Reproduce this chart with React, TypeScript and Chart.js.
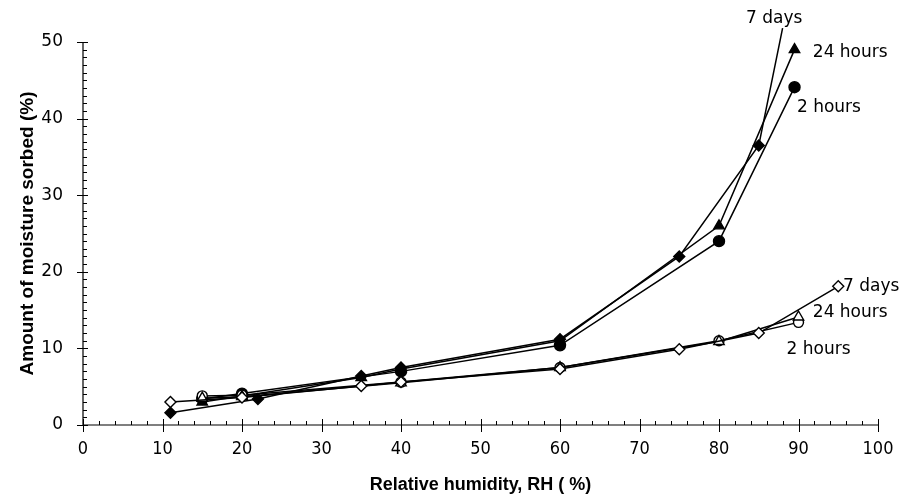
import React, { useEffect, useRef } from "react";
import { Chart, registerables } from "chart.js";

Chart.register(...registerables);

// Upper curves (filled markers)
const hi2hX = [15, 20, 40, 60, 80, 89.5];
const hi2hY = [3.4, 4.1, 7.0, 10.4, 24.0, 44.1];
const hi24hX = [15, 20, 35, 40, 60, 80, 89.5];
const hi24hY = [3.0, 3.8, 6.2, 7.3, 11.0, 26.0, 49.0];
const hi7dX = [11, 22, 35, 40, 60, 75, 85, 88];
const hi7dY = [1.6, 3.4, 6.4, 7.5, 11.2, 22.0, 36.5, 51.8];

// Lower curves (open markers)
const lo2hX = [15, 20, 40, 60, 80, 90];
const lo2hY = [3.8, 3.9, 5.6, 7.5, 11.0, 13.4];
const lo24hX = [15, 20, 40, 60, 80, 90];
const lo24hY = [3.5, 3.7, 5.5, 7.5, 10.9, 14.1];
const lo7dX = [11, 20, 35, 40, 60, 75, 85, 95];
const lo7dY = [3.0, 3.6, 5.1, 5.6, 7.3, 9.9, 12.0, 18.1];

const seriesLabels = ["7 days", "24 hours", "2 hours", "7 days", "24 hours", "2 hours"];
// anchor (data coords) for each curve label
const labelAnchorX = [83.4, 91.8, 89.8, 95.6, 91.8, 88.5];
const labelAnchorY = [53.0, 48.6, 41.4, 18.1, 14.7, 9.9];

const xTitle = "Relative humidity, RH ( %)";
const yTitle = "Amount of moisture sorbed (%)";

const toPts = (xs: number[], ys: number[]) => xs.map((x, i) => ({ x, y: ys[i] }));

const axesPlugin = {
  id: "customAxes",
  beforeDatasetsDraw(chart: any) {
    const { ctx, chartArea, scales } = chart;
    const { left, right, top, bottom } = chartArea;
    ctx.save();
    ctx.strokeStyle = "#000";
    ctx.lineWidth = 1.2;
    ctx.beginPath();
    ctx.moveTo(left, top);
    ctx.lineTo(left, bottom);
    ctx.moveTo(left, bottom);
    ctx.lineTo(right, bottom);
    ctx.stroke();
    ctx.lineWidth = 1;
    ctx.beginPath();
    // y ticks
    for (let v = 0; v <= 50; v += 1) {
      const py = Math.round(scales.y.getPixelForValue(v)) + 0.5;
      if (v % 10 === 0) {
        ctx.moveTo(left - 6, py);
        ctx.lineTo(left + 5, py);
      } else {
        ctx.moveTo(left, py);
        ctx.lineTo(left + 4, py);
      }
    }
    // x ticks
    for (let v = 0; v <= 100; v += 2) {
      const px = Math.round(scales.x.getPixelForValue(v)) + 0.5;
      if (v % 10 === 0) {
        ctx.moveTo(px, bottom - 6);
        ctx.lineTo(px, bottom + 7);
      } else {
        ctx.moveTo(px, bottom - 4);
        ctx.lineTo(px, bottom);
      }
    }
    ctx.stroke();
    ctx.restore();
  },
};

const labelPlugin = {
  id: "curveLabels",
  afterDatasetsDraw(chart: any) {
    const { ctx, scales } = chart;
    ctx.save();
    ctx.fillStyle = "#000";
    ctx.font = "17px 'DejaVu Sans', sans-serif";
    ctx.textAlign = "left";
    ctx.textBaseline = "middle";
    seriesLabels.forEach((t, i) => {
      ctx.fillText(t, scales.x.getPixelForValue(labelAnchorX[i]), scales.y.getPixelForValue(labelAnchorY[i]));
    });
    ctx.restore();
  },
};

export default function App() {
  const ref = useRef<HTMLCanvasElement>(null);
  useEffect(() => {
    if (!ref.current) return;
    const base = {
      borderColor: "#000",
      borderWidth: 1.5,
      pointBorderColor: "#000",
      pointBorderWidth: 1.4,
      tension: 0,
      clip: false as const,
      showLine: true,
    };
    const chart = new Chart(ref.current, {
      type: "scatter",
      data: {
        datasets: [
          { ...base, label: "lo 7 days", data: toPts(lo7dX, lo7dY), pointStyle: "rectRot", pointRadius: 5.5, pointBackgroundColor: "#fff" },
          { ...base, label: "lo 24 hours", data: toPts(lo24hX, lo24hY), pointStyle: "triangle", pointRadius: 6, pointBackgroundColor: "#fff" },
          { ...base, label: "lo 2 hours", data: toPts(lo2hX, lo2hY), pointStyle: "circle", pointRadius: 5, pointBackgroundColor: "#fff" },
          { ...base, label: "hi 2 hours", data: toPts(hi2hX, hi2hY), pointStyle: "circle", pointRadius: 5.5, pointBackgroundColor: "#000" },
          { ...base, label: "hi 24 hours", data: toPts(hi24hX, hi24hY), pointStyle: "triangle", pointRadius: 6, pointBackgroundColor: "#000" },
          {
            ...base,
            label: "hi 7 days",
            data: toPts(hi7dX, hi7dY),
            pointStyle: "rectRot",
            pointRadius: hi7dX.map((_, i) => (i === hi7dX.length - 1 ? 0 : 5.5)),
            pointBackgroundColor: "#000",
          },
        ],
      },
      options: {
        animation: false,
        responsive: false,
        events: [],
        layout: { padding: { top: 42, right: 36, left: 0, bottom: 0 } },
        plugins: { legend: { display: false }, tooltip: { enabled: false } },
        scales: {
          x: {
            type: "linear",
            min: 0,
            max: 100,
            grid: { display: false, drawTicks: false },
            border: { display: false },
            ticks: {
              stepSize: 10,
              autoSkip: false,
              maxRotation: 0,
              padding: 14,
              color: "#000",
              font: { family: "'Liberation Sans Narrow', 'DejaVu Sans Condensed', sans-serif", size: 18 },
            },
            title: {
              display: true,
              text: xTitle,
              color: "#000",
              font: { family: "'Liberation Sans', sans-serif", size: 18, weight: "bold" },
              padding: { top: 0, bottom: 4 },
            },
            afterFit(scale: any) {
              scale.height = 75;
            },
          },
          y: {
            type: "linear",
            min: 0,
            max: 50,
            grid: { display: false, drawTicks: false },
            border: { display: false },
            ticks: {
              stepSize: 10,
              padding: 20,
              color: "#000",
              font: { family: "'DejaVu Sans', sans-serif", size: 17 },
            },
            title: {
              display: true,
              text: yTitle,
              color: "#000",
              font: { family: "'Liberation Sans', sans-serif", size: 19, weight: "bold" },
              padding: { top: 16, bottom: 0 },
            },
            afterFit(scale: any) {
              scale.width = 83;
            },
          },
        },
      },
      plugins: [axesPlugin, labelPlugin],
    });
    return () => chart.destroy();
  }, []);
  return (
    <div style={{ position: "fixed", left: 0, top: 0, width: 914, height: 500, background: "#fff" }}>
      <canvas ref={ref} width={914} height={500} style={{ display: "block" }} />
    </div>
  );
}
